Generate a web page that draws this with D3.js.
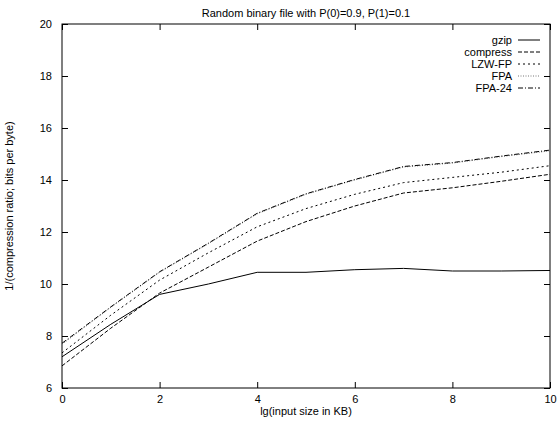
<!DOCTYPE html>
<html>
<head>
<meta charset="utf-8">
<script src="https://cdn.jsdelivr.net/npm/d3@7"></script>
<style>
body { margin: 0; background: #fff; }
text { font-family: "Liberation Sans", Arial, sans-serif; font-size: 11px; fill: #000; }
</style>
</head>
<body>
<script>
var width = 558, height = 424;
var margin = {left: 62, right: 8, top: 24, bottom: 36};

var xs = [0, 1, 2, 3, 4, 5, 6, 7, 8, 9, 10];
var gzip     = [7.2, 8.45, 9.6, 10.0, 10.45, 10.45, 10.55, 10.6, 10.5, 10.5, 10.52];
var compress = [6.85, 8.3, 9.65, 10.65, 11.65, 12.4, 13.0, 13.5, 13.7, 13.95, 14.22];
var lzwfp    = [7.35, 8.8, 10.15, 11.2, 12.2, 12.9, 13.45, 13.9, 14.1, 14.3, 14.55];
var fpa      = [7.68, 9.1, 10.45, 11.55, 12.7, 13.45, 14.0, 14.5, 14.65, 14.9, 15.12];
var fpa24    = [7.72, 9.12, 10.47, 11.57, 12.72, 13.47, 14.02, 14.52, 14.67, 14.92, 15.15];
var names = ["gzip", "compress", "LZW-FP", "FPA", "FPA-24"];
var xTicks = [0, 2, 4, 6, 8, 10];
var yTicks = [6, 8, 10, 12, 14, 16, 18, 20];

var series = [gzip, compress, lzwfp, fpa, fpa24];
var dashes = [null, "4,2", "2,3", "1,1.5", "5,2,1,2"];
var colors = ["#000", "#000", "#000", "#777", "#000"];

var svg = d3.select("body").append("svg")
    .attr("width", width).attr("height", height);

var x = d3.scaleLinear().domain([0, 10]).range([margin.left, width - margin.right]);
var y = d3.scaleLinear().domain([6, 20]).range([height - margin.bottom, margin.top]);

// ticks, inward and mirrored
var tl = 6;
svg.append("g").attr("transform", "translate(0," + y(6) + ")")
   .call(d3.axisBottom(x).tickValues(xTicks).tickSizeInner(-tl).tickSizeOuter(0).tickPadding(7))
   .call(function (g) { g.select(".domain").remove(); g.selectAll("text").style("font-size", "11px").attr("font-family", null); });
svg.append("g").attr("transform", "translate(0," + y(20) + ")")
   .call(d3.axisTop(x).tickValues(xTicks).tickSizeInner(-tl).tickSizeOuter(0).tickFormat(""))
   .call(function (g) { g.select(".domain").remove(); });
svg.append("g").attr("transform", "translate(" + x(0) + ",0)")
   .call(d3.axisLeft(y).tickValues(yTicks).tickSizeInner(-tl).tickSizeOuter(0).tickPadding(10))
   .call(function (g) { g.select(".domain").remove(); g.selectAll("text").style("font-size", "11px").attr("font-family", null); });
svg.append("g").attr("transform", "translate(" + x(10) + ",0)")
   .call(d3.axisRight(y).tickValues(yTicks).tickSizeInner(-tl).tickSizeOuter(0).tickFormat(""))
   .call(function (g) { g.select(".domain").remove(); });

svg.append("rect")
   .attr("x", x(0)).attr("y", y(20))
   .attr("width", x(10) - x(0)).attr("height", y(6) - y(20))
   .attr("fill", "none").attr("stroke", "#000").attr("stroke-width", 1);

var line = d3.line().x(function (d, i) { return x(xs[i]); }).y(function (d) { return y(d); });

series.forEach(function (s, i) {
  svg.append("path").datum(s)
     .attr("d", line)
     .attr("fill", "none")
     .attr("stroke", colors[i])
     .attr("stroke-width", 1)
     .attr("stroke-dasharray", dashes[i]);
});

// legend
var leg = svg.append("g");
names.forEach(function (n, i) {
  var ly = 40 + i * 12;
  leg.append("text").attr("x", 512).attr("y", ly + 4).attr("text-anchor", "end").text(n);
  leg.append("line").attr("x1", 518).attr("x2", 540).attr("y1", ly).attr("y2", ly)
     .attr("stroke", colors[i]).attr("stroke-width", 1).attr("stroke-dasharray", dashes[i]);
});

svg.append("text").attr("x", (x(0) + x(10)) / 2).attr("y", 17)
   .attr("text-anchor", "middle").text("Random binary file with P(0)=0.9, P(1)=0.1");
svg.append("text").attr("x", (x(0) + x(10)) / 2).attr("y", 415)
   .attr("text-anchor", "middle").text("lg(input size in KB)");
svg.append("text").attr("transform", "translate(13," + (y(13)) + ") rotate(-90)")
   .attr("text-anchor", "middle").text("1/(compression ratio; bits per byte)");
</script>
</body>
</html>
